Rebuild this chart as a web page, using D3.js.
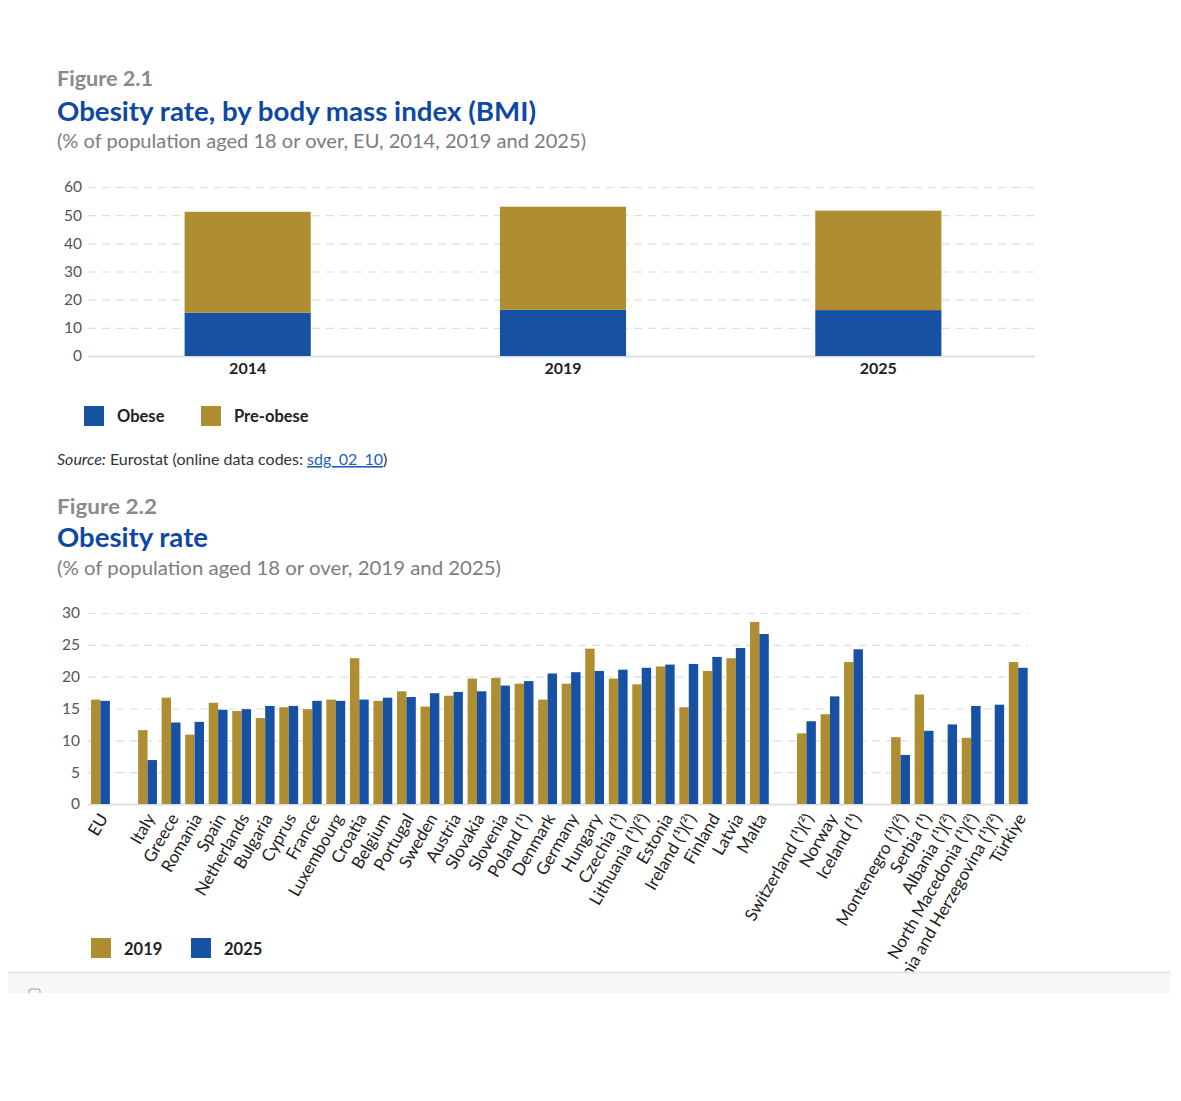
<!DOCTYPE html>
<html>
<head>
<meta charset="utf-8">
<script src="https://cdn.jsdelivr.net/npm/d3@7"></script>
<style>
  body { margin: 0; background: #fff; }
  svg { display: block; font-family: Lato, "Open Sans", sans-serif; }
</style>
</head>
<body>
<div id="chart"></div>
<script>
// Figure 2.1 data
const bmiYears = ["2014", "2019", "2025"];
const obeseShare = [15.4, 16.4, 16.3];
const preObeseShare = [35.8, 36.6, 35.3];
const bmiTicks = [0, 10, 20, 30, 40, 50, 60];

// Figure 2.2 data, one list per group of countries
const euTotal = ["EU"];
const memberStates = [
  "Italy", "Greece", "Romania", "Spain", "Netherlands", "Bulgaria", "Cyprus",
  "France", "Luxembourg", "Croatia", "Belgium", "Portugal", "Sweden", "Austria",
  "Slovakia", "Slovenia", "Poland (¹)", "Denmark", "Germany", "Hungary",
  "Czechia (¹)", "Lithuania (¹)(²)", "Estonia", "Ireland (¹)(²)", "Finland",
  "Latvia", "Malta",
];
const eftaCountries = ["Switzerland (¹)(²)", "Norway", "Iceland (¹)"];
const candidateCountries = [
  "Montenegro (¹)(²)", "Serbia (¹)", "Albania (¹)(²)", "North Macedonia (¹)(²)",
  "Bosnia and Herzegovina (¹)(²)", "Türkiye",
];
// values in the same order as the groups above
const rate2019 = [
  16.4,
  11.6, 16.7, 10.9, 15.9, 14.6, 13.5, 15.2, 14.9, 16.4, 22.9, 16.2, 17.7, 15.3,
  17.0, 19.7, 19.8, 18.9, 16.4, 18.9, 24.4, 19.7, 18.8, 21.6, 15.2, 20.9, 22.9, 28.6,
  11.1, 14.1, 22.3,
  10.5, 17.2, null, 10.4, null, 22.3,
];
const rate2025 = [
  16.2,
  6.9, 12.8, 12.9, 14.8, 14.9, 15.4, 15.4, 16.2, 16.2, 16.4, 16.7, 16.8, 17.4,
  17.6, 17.7, 18.6, 19.3, 20.5, 20.7, 20.9, 21.1, 21.4, 21.9, 22.0, 23.1, 24.5, 26.7,
  13.0, 16.9, 24.3,
  7.7, 11.5, 12.5, 15.4, 15.6, 21.4,
];
const rateTicks = [0, 5, 10, 15, 20, 25, 30];

const blue = "#1651a3";
const gold = "#ae8e30";
const blueTitle = "#0f48a3";
const greyText = "#7d7d7d";
const gridGrey = "#dedede";

const svg = d3.select("#chart").append("svg")
  .attr("width", 1181)
  .attr("height", 1101);

svg.append("rect").attr("width", 1181).attr("height", 1101).attr("fill", "#fff");

// header helper: text stretched to the width seen in the picture
function headerText(txt, x, y, size, weight, color, width) {
  return svg.append("text")
    .attr("x", x).attr("y", y)
    .attr("font-size", size)
    .attr("font-weight", weight)
    .attr("fill", color)
    .attr("textLength", width)
    .attr("lengthAdjust", "spacingAndGlyphs")
    .text(txt);
}

headerText("Figure 2.1", 57, 86, 20, 700, "#8a8a8a", 96);
headerText("Obesity rate, by body mass index (BMI)", 57, 121, 26, 700, blueTitle, 479);
headerText("(% of population aged 18 or over, EU, 2014, 2019 and 2025)", 57, 148, 20, 400, greyText, 529);

/* ---------- Figure 2.1 : stacked bars ---------- */

const x1 = d3.scaleBand().domain(bmiYears).range([90, 1036])
  .paddingInner(0.6).paddingOuter(0.3);
const y1 = d3.scaleLinear().domain([0, 60]).range([356, 187]);

const g1 = svg.append("g");

g1.append("g")
  .attr("transform", "translate(88,0)")
  .call(d3.axisLeft(y1).tickValues(bmiTicks).tickSizeInner(-947).tickSizeOuter(0).tickPadding(6))
  .call((g) => g.select(".domain").remove())
  .call((g) => g.selectAll(".tick line")
    .attr("stroke", gridGrey)
    .attr("stroke-dasharray", (d) => (d === 0 ? null : "8,6"))
    .attr("stroke-width", (d) => (d === 0 ? 2 : 1.2)))
  .call((g) => g.selectAll(".tick text")
    .attr("fill", "#555").attr("font-size", 15.5).attr("font-family", "Lato"));

const stack1 = bmiYears.map((yr, i) => ({
  year: yr,
  obese: obeseShare[i],
  pre: preObeseShare[i],
}));

g1.selectAll("rect.obese")
  .data(stack1)
  .join("rect")
  .attr("class", "obese")
  .attr("x", (d) => x1(d.year))
  .attr("width", x1.bandwidth())
  .attr("y", (d) => y1(d.obese))
  .attr("height", (d) => y1(0) - y1(d.obese))
  .attr("fill", blue);

g1.selectAll("rect.pre")
  .data(stack1)
  .join("rect")
  .attr("class", "pre")
  .attr("x", (d) => x1(d.year))
  .attr("width", x1.bandwidth())
  .attr("y", (d) => y1(d.obese + d.pre))
  .attr("height", (d) => y1(d.obese) - y1(d.obese + d.pre))
  .attr("fill", gold);

g1.append("g")
  .attr("transform", "translate(0,356)")
  .call(d3.axisBottom(x1).tickSize(0).tickPadding(7))
  .call((g) => g.select(".domain").remove())
  .call((g) => g.selectAll(".tick text")
    .attr("fill", "#222").attr("font-size", 16).attr("font-weight", 700).attr("font-family", "Lato"));

// legend 2.1
const legend1 = [
  { label: "Obese", color: blue, x: 84 },
  { label: "Pre-obese", color: gold, x: 201 },
];
const lg1 = svg.append("g");
lg1.selectAll("rect").data(legend1).join("rect")
  .attr("x", (d) => d.x).attr("y", 406)
  .attr("width", 20).attr("height", 20)
  .attr("fill", (d) => d.color);
lg1.selectAll("text").data(legend1).join("text")
  .attr("x", (d) => d.x + 33).attr("y", 422)
  .attr("font-size", 16.5).attr("font-weight", 700).attr("fill", "#222")
  .text((d) => d.label);

// source line
const src = svg.append("text").attr("x", 57).attr("y", 465)
  .attr("font-size", 16).attr("fill", "#333");
src.append("tspan").attr("font-style", "italic").text("Source:");
src.append("tspan").text(" Eurostat (online data codes: ");
src.append("tspan").attr("fill", "#1f5fb8").attr("text-decoration", "underline").text("sdg_02_10");
src.append("tspan").text(")");

headerText("Figure 2.2", 57, 514, 20, 700, "#8a8a8a", 100);
headerText("Obesity rate", 57, 547, 26, 700, blueTitle, 151);
headerText("(% of population aged 18 or over, 2019 and 2025)", 57, 575, 20, 400, greyText, 444);

/* ---------- Figure 2.2 : grouped bars ---------- */

const countryGroups = [euTotal, memberStates, eftaCountries, candidateCountries];
const countries = countryGroups.flat();
const slots = [];
countryGroups.forEach((grp, i) => {
  if (i) slots.push("gap" + i);
  slots.push(...grp);
});

const rateData = countries.map((c, i) => ({
  country: c,
  values: [
    { key: "2019", v: rate2019[i] },
    { key: "2025", v: rate2025[i] },
  ],
}));

const x2 = d3.scaleBand().domain(slots).range([88.7, 1030])
  .paddingInner(0.2).paddingOuter(0.1);
const xSub = d3.scaleBand().domain(["2019", "2025"]).range([0, x2.bandwidth()]);
const y2 = d3.scaleLinear().domain([0, 30]).range([804, 613]);
const seriesColor = { "2019": gold, "2025": blue };

const g2 = svg.append("g");

g2.append("g")
  .attr("transform", "translate(88,0)")
  .call(d3.axisLeft(y2).tickValues(rateTicks).tickSizeInner(-940).tickSizeOuter(0).tickPadding(8))
  .call((g) => g.select(".domain").remove())
  .call((g) => g.selectAll(".tick line")
    .attr("stroke", gridGrey)
    .attr("stroke-dasharray", (d) => (d === 0 ? null : "8,6"))
    .attr("stroke-width", (d) => (d === 0 ? 2 : 1.2)))
  .call((g) => g.selectAll(".tick text")
    .attr("fill", "#555").attr("font-size", 15.5).attr("font-family", "Lato"));

g2.selectAll("g.country")
  .data(rateData)
  .join("g")
  .attr("class", "country")
  .attr("transform", (d) => `translate(${x2(d.country)},0)`)
  .selectAll("rect")
  .data((d) => d.values.filter((e) => e.v != null))
  .join("rect")
  .attr("x", (e) => xSub(e.key))
  .attr("width", xSub.bandwidth())
  .attr("y", (e) => y2(e.v))
  .attr("height", (e) => y2(0) - y2(e.v))
  .attr("fill", (e) => seriesColor[e.key]);

// rotated country labels
g2.selectAll("text.country-label")
  .data(countries)
  .join("text")
  .attr("class", "country-label")
  .attr("text-anchor", "end")
  .attr("font-size", 17)
  .attr("fill", "#1e1e1e")
  .attr("dy", "0.35em")
  .attr("transform", (c) =>
    `translate(${x2(c) + x2.bandwidth() / 2 + 3},${815}) rotate(-60)`)
  .text((c) => c);

// legend 2.2
const legend2 = [
  { label: "2019", color: gold, x: 91 },
  { label: "2025", color: blue, x: 191 },
];
const lg2 = svg.append("g");
lg2.selectAll("rect").data(legend2).join("rect")
  .attr("x", (d) => d.x).attr("y", 938)
  .attr("width", 20).attr("height", 20)
  .attr("fill", (d) => d.color);
lg2.selectAll("text").data(legend2).join("text")
  .attr("x", (d) => d.x + 33).attr("y", 955)
  .attr("font-size", 16.5).attr("font-weight", 700).attr("fill", "#222")
  .text((d) => d.label);

// page footer strip that covers the end of the longest label
svg.append("rect")
  .attr("x", 8).attr("y", 972).attr("width", 1162).attr("height", 21)
  .attr("fill", "#f6f7f9");
svg.append("line")
  .attr("x1", 8).attr("x2", 1170).attr("y1", 972.5).attr("y2", 972.5)
  .attr("stroke", "#e4e5e9").attr("stroke-width", 2);
svg.append("rect")
  .attr("x", 29).attr("y", 989).attr("width", 11).attr("height", 11).attr("rx", 2)
  .attr("fill", "none").attr("stroke", "#9a9a9a");
svg.append("rect")
  .attr("x", 0).attr("y", 993).attr("width", 1181).attr("height", 108)
  .attr("fill", "#fff");
</script>
</body>
</html>
